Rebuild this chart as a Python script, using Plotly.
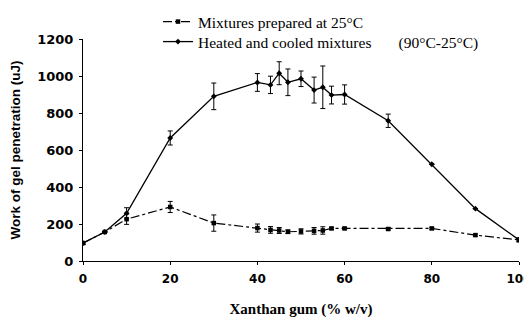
import plotly.graph_objects as go

x_vals = [0, 5, 10, 20, 30, 40, 43, 45, 47, 50, 53, 55, 57, 60, 70, 80, 90, 100]

heated = [97, 157, 258, 665, 890, 965, 952, 1015, 966, 985, 924, 939, 897, 900, 758, 523, 283, 114]
heated_err = [8, 0, 30, 38, 72, 48, 47, 62, 72, 42, 70, 115, 48, 52, 36, 0, 0, 10]

mixed = [97, 157, 226, 292, 205, 178, 168, 165, 158, 160, 163, 165, 176, 176, 173, 176, 140, 114]
mixed_err = [8, 0, 28, 30, 44, 22, 18, 16, 10, 14, 18, 20, 6, 6, 6, 6, 6, 10]

legend_names = ["Mixtures prepared at 25°C", "Heated and cooled mixtures       (90°C-25°C)"]
x_title = "Xanthan gum (% w/v)"
y_title = "Work of gel penetration (uJ)"
x_ticks = [0, 20, 40, 60, 80, 100]
y_ticks = [0, 200, 400, 600, 800, 1000, 1200]

legend_font = dict(family="Liberation Serif", size=15.5, color="black")

fig = go.Figure()
fig.add_trace(go.Scatter(
    x=x_vals, y=mixed, name=legend_names[0], mode="lines+markers", legend="legend",
    showlegend=True,
    line=dict(color="black", width=1.2, dash="dashdot"),
    marker=dict(symbol="square", size=4.5, color="black"),
    error_y=dict(type="data", array=mixed_err, color="black", thickness=1, width=2.5),
))
fig.add_trace(go.Scatter(
    x=x_vals, y=heated, name=legend_names[1], mode="lines+markers", legend="legend2",
    showlegend=True,
    line=dict(color="black", width=1.3),
    marker=dict(symbol="diamond", size=4.5, color="black"),
    error_y=dict(type="data", array=heated_err, color="black", thickness=1, width=2.5),
))

fig.update_layout(
    width=532, height=328, showlegend=True,
    margin=dict(l=75, r=21, t=31, b=75, autoexpand=False),
    paper_bgcolor="white", plot_bgcolor="white",
    font=dict(family="Liberation Serif", color="black"),
    legend=dict(x=0.172, y=0.9573, xanchor="left", yanchor="middle", yref="container",
                font=legend_font, bgcolor="rgba(0,0,0,0)", itemwidth=30),
    legend2=dict(x=0.172, y=0.8963, xanchor="left", yanchor="middle", yref="container",
                 font=legend_font, bgcolor="rgba(0,0,0,0)", itemwidth=30),
    xaxis=dict(range=[0, 100], tickvals=x_ticks, showgrid=False, zeroline=False,
               showline=True, linecolor="black", linewidth=1,
               ticks="outside", ticklen=3, tickcolor="black", ticklabelstandoff=4,
               tickfont=dict(family="DejaVu Sans", size=12, color="black", weight="bold"),
               title=dict(text=x_title, font=dict(family="Liberation Serif", size=15, weight="bold"), standoff=18)),
    yaxis=dict(range=[0, 1200], tickvals=y_ticks, showgrid=False, zeroline=False,
               showline=True, linecolor="black", linewidth=1,
               ticks="outside", ticklen=3, tickcolor="black", ticklabelstandoff=3,
               tickfont=dict(family="DejaVu Sans", size=13, color="black", weight="bold"),
               title=dict(text=y_title, font=dict(family="Liberation Sans", size=13.5, weight="bold"), standoff=14)),
)

fig.write_html("out.html")
